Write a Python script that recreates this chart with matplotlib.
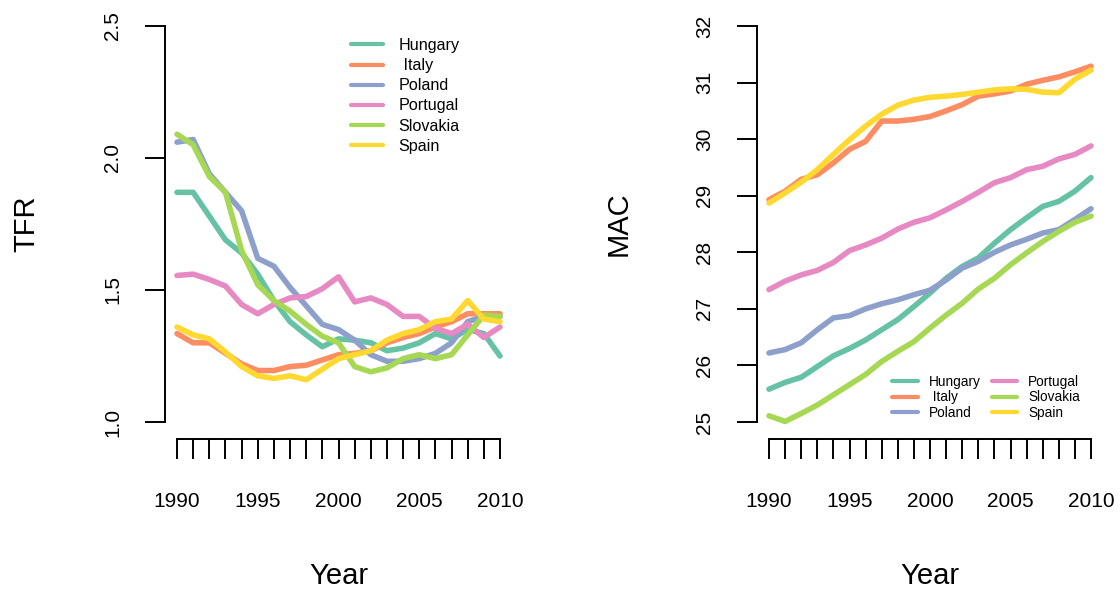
import numpy as np
import matplotlib
matplotlib.use("Agg")
import matplotlib.pyplot as plt

plt.rcParams["font.family"] = ["Liberation Sans", "DejaVu Sans"]

# Data
years = list(range(1990, 2011))
countries = ["Hungary", " Italy", "Poland", "Portugal", "Slovakia", "Spain"]
colors = ["#66C2A5", "#FC8D62", "#8DA0CB", "#E78AC3", "#A6D854", "#FFD92F"]

# total fertility rate
tfr_hungary = [1.87, 1.87, 1.78, 1.69, 1.64, 1.56, 1.46, 1.38, 1.33, 1.285, 1.315,
               1.31, 1.30, 1.27, 1.28, 1.30, 1.335, 1.315, 1.35, 1.335, 1.25]
tfr_italy = [1.335, 1.30, 1.30, 1.26, 1.22, 1.195, 1.195, 1.21, 1.215, 1.235, 1.255,
             1.26, 1.27, 1.30, 1.32, 1.335, 1.36, 1.38, 1.41, 1.41, 1.41]
tfr_poland = [2.06, 2.07, 1.94, 1.87, 1.80, 1.62, 1.59, 1.51, 1.44, 1.37, 1.35,
              1.31, 1.255, 1.23, 1.23, 1.24, 1.26, 1.30, 1.38, 1.40, 1.40]
tfr_portugal = [1.555, 1.56, 1.54, 1.515, 1.445, 1.41, 1.445, 1.47, 1.475, 1.505, 1.55,
                1.455, 1.47, 1.445, 1.40, 1.40, 1.355, 1.335, 1.37, 1.32, 1.36]
tfr_slovakia = [2.09, 2.05, 1.93, 1.87, 1.65, 1.52, 1.46, 1.42, 1.37, 1.325, 1.30,
                1.21, 1.19, 1.205, 1.24, 1.255, 1.24, 1.255, 1.33, 1.405, 1.40]
tfr_spain = [1.36, 1.33, 1.315, 1.265, 1.21, 1.175, 1.165, 1.175, 1.16, 1.20, 1.24,
             1.255, 1.27, 1.31, 1.335, 1.35, 1.38, 1.39, 1.46, 1.39, 1.38]

# mean age at childbearing
mac_hungary = [25.58, 25.70, 25.79, 25.98, 26.17, 26.30, 26.45, 26.63, 26.81, 27.04, 27.28,
               27.54, 27.75, 27.90, 28.16, 28.40, 28.61, 28.81, 28.90, 29.08, 29.32]
mac_italy = [28.93, 29.08, 29.29, 29.37, 29.58, 29.82, 29.96, 30.32, 30.32, 30.35, 30.40,
             30.50, 30.61, 30.76, 30.80, 30.85, 30.97, 31.04, 31.10, 31.19, 31.29]
mac_poland = [26.22, 26.28, 26.40, 26.63, 26.84, 26.88, 27.00, 27.09, 27.16, 27.25, 27.33,
              27.51, 27.72, 27.84, 28.00, 28.13, 28.23, 28.34, 28.40, 28.58, 28.77]
mac_portugal = [27.34, 27.49, 27.60, 27.68, 27.82, 28.03, 28.13, 28.25, 28.41, 28.53, 28.61,
                28.75, 28.90, 29.06, 29.23, 29.32, 29.46, 29.52, 29.65, 29.73, 29.88]
mac_slovakia = [25.11, 25.01, 25.15, 25.30, 25.48, 25.66, 25.84, 26.07, 26.25, 26.42, 26.66,
                26.89, 27.10, 27.35, 27.54, 27.78, 27.99, 28.19, 28.37, 28.53, 28.64]
mac_spain = [28.87, 29.05, 29.24, 29.46, 29.73, 29.99, 30.23, 30.44, 30.60, 30.69, 30.74,
             30.76, 30.79, 30.83, 30.87, 30.89, 30.88, 30.83, 30.82, 31.06, 31.22]

tfr = [tfr_hungary, tfr_italy, tfr_poland, tfr_portugal, tfr_slovakia, tfr_spain]
mac = [mac_hungary, mac_italy, mac_poland, mac_portugal, mac_slovakia, mac_spain]

W, H = 1120, 594
PT = 72 / 100  # points per pixel
fig = plt.figure(figsize=(W / 100, H / 100), dpi=100)
ax1 = fig.add_axes([177 / W, 1 - 422 / H, 323 / W, 396 / H])
ax2 = fig.add_axes([769 / W, 1 - 422 / H, 322 / W, 396 / H])


def style_axis(ax, ylim, yticks, ylabel):
    ax.set_xlim(1990, 2010)
    ax.set_ylim(*ylim)
    for s in ["top", "right"]:
        ax.spines[s].set_visible(False)
    ax.spines["left"].set_position(("outward", 12 * PT))
    ax.spines["bottom"].set_position(("outward", 17 * PT))
    for s in ["left", "bottom"]:
        ax.spines[s].set_linewidth(1.4)
    ax.set_xticks(years)
    ax.set_xticklabels([str(y) if y % 5 == 0 else "" for y in years])
    ax.set_yticks(yticks)
    ax.tick_params(axis="both", direction="out", length=20 * PT, width=1.4, labelsize=15)
    ax.tick_params(axis="x", pad=24)
    ax.tick_params(axis="y", pad=16.5)
    for lab in ax.get_yticklabels():
        lab.set_rotation(90)
        lab.set_va("center")
    ax.set_xlabel("Year", fontsize=21, va="center")
    ax.xaxis.set_label_coords(0.5, -154 / 396)
    ax.set_ylabel(ylabel, fontsize=21, va="center")
    ax.yaxis.set_label_coords(-151 / 323, 0.5)


for vals, name, c in zip(tfr, countries, colors):
    ax1.plot(years, vals, color=c, lw=4.0, label=name, clip_on=False,
             solid_capstyle="round", solid_joinstyle="round")
for vals, name, c in zip(mac, countries, colors):
    ax2.plot(years, vals, color=c, lw=4.0, label=name, clip_on=False,
             solid_capstyle="round", solid_joinstyle="round")

style_axis(ax1, (1.0, 2.5), [1.0, 1.5, 2.0, 2.5], "TFR")
style_axis(ax2, (25, 32), list(range(25, 33)), "MAC")

leg1 = ax1.legend(loc="upper left", bbox_to_anchor=(351 / W, 1 - 38 / H),
                  bbox_transform=fig.transFigure, frameon=False, fontsize=11.6,
                  handlelength=2.0, handletextpad=0.95, labelspacing=0.32,
                  borderpad=0, borderaxespad=0)
leg2 = ax2.legend(loc="upper left", bbox_to_anchor=(892 / W, 1 - 375 / H),
                  bbox_transform=fig.transFigure, frameon=False, fontsize=9.8, ncol=2,
                  handlelength=1.9, handletextpad=0.8, labelspacing=0.1,
                  columnspacing=0.8, borderpad=0, borderaxespad=0)
for leg in (leg1, leg2):
    for line in leg.get_lines():
        line.set_linewidth(3.0)

fig.savefig("out.png", dpi=100)
